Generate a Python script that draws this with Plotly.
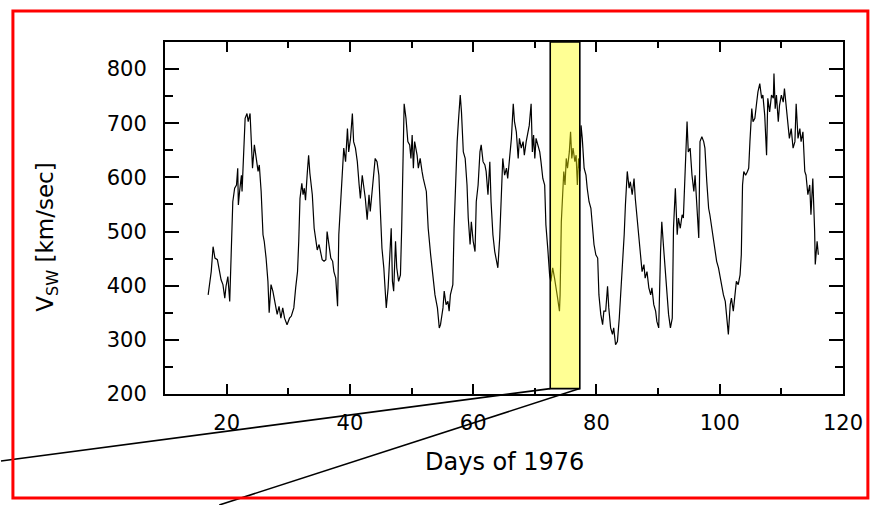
import plotly.graph_objects as go

# ---- data ----
days = [
    17.0, 17.3, 17.5, 17.8, 18.1, 18.5, 18.8, 19.1, 19.4, 19.7, 19.9, 20.2, 20.5, 20.8, 21.0,
    21.3, 21.6, 21.8, 21.9, 22.1, 22.4, 22.5, 22.8, 23.0, 23.3, 23.5, 23.8, 24.0, 24.2, 24.5,
    24.8, 25.1, 25.3, 25.6, 25.9, 26.1, 26.4, 26.7, 26.9, 27.2, 27.5, 27.7, 28.2, 28.5, 28.8,
    29.1, 29.4, 29.8, 30.2, 30.5, 30.9, 31.2, 31.5, 31.7, 31.9, 32.2, 32.4, 32.6, 32.8, 33.1,
    33.3, 33.5, 33.9, 34.2, 34.5, 34.7, 35.0, 35.3, 35.5, 35.8, 36.1, 36.3, 36.6, 36.9, 37.2,
    37.4, 37.7, 38.0,
    38.2, 38.5, 38.8, 39.0, 39.3, 39.6, 39.8, 40.1, 40.4, 40.6, 40.9, 41.2, 41.5, 41.7, 42.0,
    42.3, 42.5, 42.8, 43.1, 43.3, 43.6, 43.9, 44.1, 44.4, 44.7, 44.9, 45.2, 45.5, 45.8, 45.9,
    46.2, 46.5, 46.7, 46.9, 47.1, 47.4, 47.6, 47.9, 48.2, 48.4, 48.6, 48.8, 49.1, 49.4, 49.7,
    49.9, 50.1, 50.3, 50.5, 50.9, 51.1, 51.4, 51.7, 51.9, 52.4, 52.7, 53.1, 53.4, 53.8, 54.2,
    54.5, 54.7, 55.1, 55.3, 55.6, 55.9, 56.1, 56.3, 56.7, 56.9, 57.2, 57.4, 57.6, 57.9, 58.1,
    58.4, 58.7, 59.0, 59.2, 59.5, 59.7, 60.0, 60.3, 60.5, 60.8, 61.1, 61.3, 61.6, 61.9, 62.1,
    62.4, 62.7, 62.9, 63.2, 63.5, 63.8, 64.0, 64.3, 64.6,
    64.8, 65.1, 65.4, 65.6, 65.9, 66.2, 66.5, 66.7, 67.0, 67.3, 67.5, 67.8, 68.1, 68.3, 68.6,
    68.9, 69.1, 69.4, 69.6, 69.8, 70.0, 70.2, 70.5, 70.8, 71.0, 71.3, 71.6, 71.8, 72.1, 72.4,
    72.6, 72.9, 73.2, 73.4, 73.7, 74.0, 74.1, 74.3, 74.5, 74.7, 74.9, 75.1, 75.3, 75.6, 75.8,
    76.0, 76.2, 76.5, 76.7, 76.9, 77.1, 77.3, 77.5, 77.7, 78.0, 78.3, 78.5, 78.8, 79.1, 79.4,
    79.6, 79.9, 80.2, 80.4, 80.7, 81.0, 81.2, 81.5, 81.8, 82.0, 82.3, 82.6, 82.8, 83.1, 83.4,
    83.7, 83.9, 84.2, 84.5, 84.7, 85.0, 85.3, 85.5, 85.8, 86.1, 86.3, 86.6, 86.9, 87.1, 87.4,
    87.7, 87.9, 88.2, 88.5, 88.8, 89.0, 89.3, 89.6, 89.8, 90.1, 90.4, 90.6, 90.9, 91.2, 91.5,
    91.7, 92.0, 92.3,
    92.5, 92.8, 93.1, 93.3, 93.6, 93.9, 94.1, 94.4, 94.7, 94.9, 95.2, 95.5, 95.8, 96.0, 96.3,
    96.6, 96.8, 97.1, 97.4, 97.6, 97.9, 98.2, 98.4, 98.7, 99.0, 99.2, 99.5, 99.8, 100.0, 100.3,
    100.6, 100.9, 101.1, 101.4, 101.7, 101.9, 102.2, 102.5, 102.7, 103.0, 103.3, 103.5, 103.7,
    103.9, 104.2, 104.5, 104.7, 104.9, 105.2, 105.4, 105.7, 106.0, 106.2, 106.5, 106.8, 107.0,
    107.3, 107.6, 107.8, 108.1, 108.4, 108.7, 108.8, 109.0, 109.2, 109.5, 109.7, 110.0, 110.3,
    110.5, 110.8, 111.1, 111.3, 111.6, 111.9, 112.2, 112.4, 112.7, 113.0, 113.2, 113.5, 113.8,
    114.0, 114.3, 114.6, 114.8, 115.1, 115.4, 115.5, 115.8, 116.0,
]

speed_kms = [
    383, 408, 426, 472, 451, 448, 426, 411, 402, 377, 399, 417, 371, 482, 555,
    580, 586, 617, 549, 574, 604, 574, 654, 709, 718, 703, 718, 666, 617, 660,
    635, 611, 623, 574, 494, 482, 451, 408, 350, 402, 390, 377, 347, 362, 340,
    359, 340, 328, 340, 344, 359, 396, 426, 482, 561, 589, 568, 580, 558, 611,
    641, 608, 568, 506, 482, 466, 476, 457, 448, 445, 448, 500, 476, 451, 445,
    426, 414, 362,
    494, 549, 604, 654, 629, 690, 647, 672, 718, 666, 654, 629, 586, 561, 604,
    580, 561, 522, 568, 537, 574, 604, 635, 629, 604, 549, 469, 433, 383, 359,
    396, 451, 506, 408, 390, 482, 433, 408, 420, 506, 666, 736, 709, 666, 660,
    635, 678, 617, 666, 641, 617, 635, 611, 598, 574, 506, 457, 420, 383, 359,
    322, 328, 359, 390, 365, 371, 353, 383, 402, 506, 623, 666, 703, 752, 721,
    647, 635, 586, 525, 476, 518, 482, 463, 555, 586, 647, 660, 629, 623, 611,
    568, 629, 555, 494, 463, 445, 433, 488, 604,
    635, 604, 617, 598, 629, 672, 736, 703, 684, 635, 672, 654, 666, 641, 666,
    684, 696, 736, 647, 678, 635, 672, 660, 647, 629, 598, 586, 512, 469, 420,
    408, 433, 414, 396, 377, 353, 383, 518, 568, 611, 586, 635, 617, 647, 684,
    635, 654, 629, 641, 586, 635, 611, 696, 672, 617, 604, 580, 555, 543, 506,
    476, 457, 451, 383, 347, 328, 353, 353, 399, 359, 322, 310, 322, 291, 297,
    340, 377, 433, 494, 549, 611, 580, 592, 568, 598, 561, 525, 488, 451, 426,
    439, 414, 426, 396, 383, 396, 365, 353, 334, 322, 463, 518, 469, 420, 383,
    347, 322, 340,
    506, 580, 494, 525, 506, 531, 525, 629, 703, 647, 654, 604, 574, 604, 537,
    488, 666, 675, 666, 654, 592, 543, 531, 506, 482, 463, 445, 433, 420, 408,
    383, 371, 347, 310, 365, 377, 353, 383, 408, 402, 420, 457, 586,
    611, 604, 611, 617, 666, 727, 703, 709, 739, 758, 773, 746, 752,
    715, 641, 746, 721, 752, 746, 792, 727, 752, 703, 733, 752, 739,
    764, 727, 696, 672, 690, 654, 666, 736, 672, 690, 666, 684, 611,
    604, 568, 586, 531, 598, 500, 439, 482, 457,
]

x_tick_values = [20, 40, 60, 80, 100, 120]
x_tick_labels = ["20", "40", "60", "80", "100", "120"]
x_minor_tick_values = [10, 30, 50, 70, 90, 110]
y_tick_values = [200, 300, 400, 500, 600, 700, 800]
y_tick_labels = ["200", "300", "400", "500", "600", "700", "800"]
y_minor_tick_values = [250, 350, 450, 550, 650, 750, 850]

highlight_start_day = 72.5
highlight_end_day = 77.3

x_title = "Days of 1976"
y_title = "V<sub>SW</sub> [km/sec]"

# ---- figure ----
X_RANGE = [10, 120]
Y_RANGE = [200, 850]
FONT = "DejaVu Sans"


def to_paper_x(v):
    return (v - X_RANGE[0]) / (X_RANGE[1] - X_RANGE[0])


def to_paper_y(v):
    return (v - Y_RANGE[0]) / (Y_RANGE[1] - Y_RANGE[0])


fig = go.Figure()
fig.add_trace(go.Scatter(
    x=days, y=speed_kms, mode="lines",
    line=dict(color="black", width=1.2),
    hoverinfo="skip", showlegend=False,
))
# empty trace so the overlay axes (short, unlabelled minor ticks) exist
fig.add_trace(go.Scatter(x=[], y=[], xaxis="x2", yaxis="y2", mode="lines",
                         hoverinfo="skip", showlegend=False))

box_bottom = 210
# highlighted interval
fig.add_shape(type="rect", xref="x", yref="y",
              x0=highlight_start_day, x1=highlight_end_day, y0=box_bottom, y1=Y_RANGE[1],
              fillcolor="rgba(255,255,0,0.42)", line=dict(color="black", width=1.6),
              layer="above")
# zoom lines going out of the frame
fig.add_shape(type="line", xref="paper", yref="paper",
              x0=to_paper_x(highlight_start_day), y0=to_paper_y(box_bottom),
              x1=-0.2419, y1=-0.1903, line=dict(color="black", width=1.6))
fig.add_shape(type="line", xref="paper", yref="paper",
              x0=to_paper_x(highlight_end_day), y0=to_paper_y(box_bottom),
              x1=0.080, y1=-0.3153, line=dict(color="black", width=1.6))
# red outer frame
fig.add_shape(type="rect", xref="paper", yref="paper",
              x0=-0.2243, x1=1.0367, y0=-0.2955, y1=1.088,
              line=dict(color="#ff0000", width=3), fillcolor="rgba(0,0,0,0)")

fig.add_annotation(text=x_title, xref="paper", yref="paper", x=0.5, y=-0.193,
                   xanchor="center", yanchor="middle", showarrow=False,
                   font=dict(family=FONT, size=24, color="black"))
fig.add_annotation(text=y_title, xref="paper", yref="paper", x=-0.1745, y=0.446,
                   xanchor="center", yanchor="middle", showarrow=False, textangle=-90,
                   font=dict(family=FONT, size=23, color="black"))

axis_common = dict(showline=True, linecolor="black", linewidth=2, mirror="ticks",
                   showgrid=False, zeroline=False, tickwidth=2, tickcolor="black",
                   ticks="inside")

fig.update_layout(
    xaxis=dict(
        range=X_RANGE, tickmode="array", tickvals=x_tick_values, ticktext=x_tick_labels,
        ticklen=10, ticklabelstandoff=9,
        tickfont=dict(family=FONT, size=21, color="black"), **axis_common),
    yaxis=dict(
        range=Y_RANGE, tickmode="array", tickvals=y_tick_values, ticktext=y_tick_labels,
        ticklen=14, ticklabelstandoff=12,
        tickfont=dict(family=FONT, size=21, color="black"), **axis_common),
    xaxis2=dict(
        range=X_RANGE, overlaying="x", anchor="y", side="bottom",
        tickmode="array", tickvals=x_minor_tick_values, ticklen=6,
        showticklabels=False, **axis_common),
    yaxis2=dict(
        range=Y_RANGE, overlaying="y", anchor="x", side="left",
        tickmode="array", tickvals=y_minor_tick_values, ticklen=8,
        showticklabels=False, **axis_common),
    width=875, height=505,
    margin=dict(l=165, r=28, t=42, b=111),
    paper_bgcolor="white", plot_bgcolor="white",
    showlegend=False,
)

fig.write_html("out.html")
